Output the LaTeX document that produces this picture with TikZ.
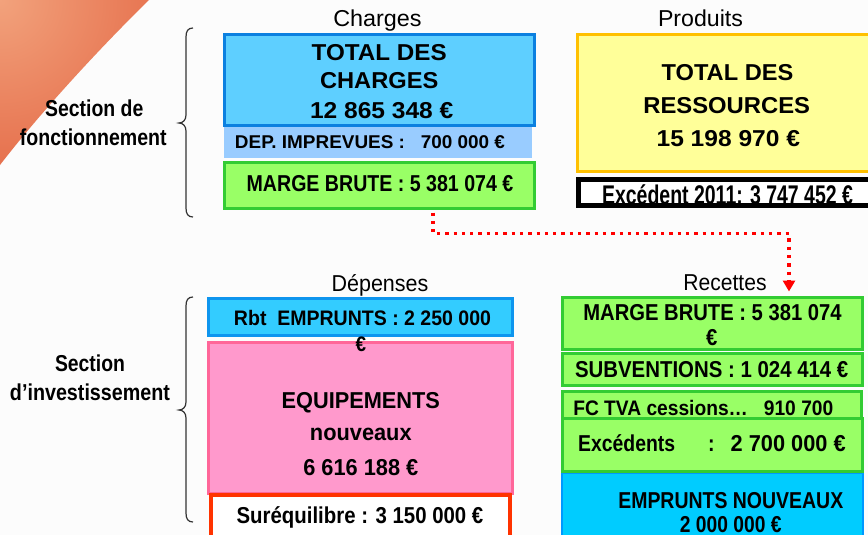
\documentclass[tikz,border=0pt]{standalone}
\usepackage{fontspec}
\setmainfont{Liberation Sans}
\usepackage{graphicx}
\usetikzlibrary{arrows.meta}
\definecolor{bgc}{HTML}{FCFCFC}
\definecolor{tcF}{HTML}{5ECFFF}
\definecolor{tcD}{HTML}{0B80E0}
\definecolor{depF}{HTML}{99CCFF}
\definecolor{grF}{HTML}{99FF66}
\definecolor{grD}{HTML}{33CC33}
\definecolor{yeF}{HTML}{FFFF99}
\definecolor{yeD}{HTML}{FFC000}
\definecolor{rbF}{HTML}{33CCFF}
\definecolor{rbD}{HTML}{0E95EE}
\definecolor{pkF}{HTML}{FF99CC}
\definecolor{pkD}{HTML}{FF6699}
\definecolor{suD}{HTML}{FF3300}
\definecolor{emF}{HTML}{00CCFF}
\definecolor{emD}{HTML}{0099FF}
\definecolor{orIn}{HTML}{F2A27C}
\definecolor{orOut}{HTML}{DA4020}
\definecolor{brc}{HTML}{333333}
\newcommand\hw[2]{\resizebox{#1pt}{\height}{#2}}
\tikzset{
  box/.style={inner sep=0pt, outer sep=0pt, line width=3pt},
  lbl/.style={anchor=base, inner sep=0pt, font=\fontsize{23}{23}\selectfont},
  bt/.style={anchor=base, inner sep=0pt, font=\bfseries\fontsize{23}{23}\selectfont},
  bts/.style={anchor=base, inner sep=0pt, font=\bfseries\fontsize{21}{21}\selectfont},
  brace/.style={draw=brc, line width=1.2pt},
  flow/.style={draw=red, line width=3.3pt, dash pattern=on 3.3pt off 5pt,
    -{Triangle[width=12pt,length=11pt]}}
}
\begin{document}
\begin{tikzpicture}[x=1pt,y=-1pt]
\useasboundingbox (0,0) rectangle (868,535);
\clip (0,0) rectangle (868,535);
\fill[bgc] (0,0) rectangle (868,535);
% orange corner
\begin{scope}
  \clip (0,0) -- (149,0) .. controls (104,44) and (44,108) .. (0,165) -- cycle;
  \shade[inner color=orIn, outer color=orOut] (0,0) circle (330pt);
\end{scope}
% braces
\draw[brace] (193,28) .. controls (188,28) and (186,31) .. (186,37) -- (186,115)
  .. controls (186,120) and (183,123) .. (179,123)
  .. controls (183,123) and (186,126) .. (186,131) -- (186,208)
  .. controls (186,214) and (188,217) .. (193,217);
\draw[brace] (193,297) .. controls (188,297) and (186,300) .. (186,306) -- (186,402)
  .. controls (186,407) and (183,410) .. (179,410)
  .. controls (183,410) and (186,413) .. (186,418) -- (186,513)
  .. controls (186,519) and (188,522) .. (193,522);
% top boxes
\node[box, draw=tcD, fill=tcF, minimum width=310pt, minimum height=91pt] (tc) at (379.5,80) {};
\node[box, fill=depF, minimum width=308pt, minimum height=31pt] (dep) at (378,142.5) {};
\node[box, draw=grD, fill=grF, minimum width=310pt, minimum height=46pt] (mb1) at (379.5,185.5) {};
\node[box, draw=yeD, fill=yeF, minimum width=307.5pt, minimum height=137pt] (tr) at (731.25,103) {};
\node[box, draw=black, fill=white, line width=4.5pt, minimum width=306.5pt, minimum height=26pt] (ex) at (731.75,192.5) {};
% bottom left boxes
\node[box, draw=rbD, fill=rbF, minimum width=304pt, minimum height=37pt] (rb) at (360.5,317) {};
\node[box, draw=pkD, fill=pkF, minimum width=304pt, minimum height=151pt] (eq) at (360.5,418) {};
\node[box, draw=suD, fill=white, line width=4pt, minimum width=299pt, minimum height=55pt] (su) at (360.5,522.5) {};
% bottom right boxes
\node[box, draw=emD, fill=emF, line width=2pt, minimum width=301pt, minimum height=77pt] (em) at (712.5,511.5) {};
\node[box, draw=grD, fill=grF, minimum width=300pt, minimum height=51.5pt] (mb2) at (712.5,323.25) {};
\node[box, draw=grD, fill=grF, minimum width=300pt, minimum height=32pt] (sub) at (712.5,369) {};
\node[box, draw=grD, fill=grF, minimum width=298.5pt, minimum height=31pt] (fc) at (711.75,406.5) {};
\node[box, draw=grD, fill=grF, minimum width=300pt, minimum height=52.5pt] (exc) at (712.5,444.75) {};
% column labels
\node[lbl] (lch) at (377.5,26.5) {\hw{88.4}{Charges}};
\node[lbl] (lpr) at (700.5,27) {\hw{85}{Produits}};
\node[lbl] (lde) at (380,291.5) {\hw{96.7}{Dépenses}};
\node[lbl] (lre) at (725,290) {\hw{83.3}{Recettes}};
% section labels
\node[bt] (sfA) at (94.2,116.7) {\hw{98.3}{Section de}};
\node[bt] (sfB) at (93.3,145) {\hw{146.7}{fonctionnement}};
\node[bt] (siA) at (90,371.7) {\hw{70}{Section}};
\node[bt] (siB) at (90,400) {\hw{160}{d’investissement}};
% top texts
\node[bt] (tcA) at (379.2,60) {\hw{135}{TOTAL DES}};
\node[bt] (tcB) at (379.2,88.3) {\hw{118.3}{CHARGES}};
\node[bt] (tcC) at (381.7,118.3) {\hw{143.3}{12 865 348 €}};
\node[anchor=base, inner sep=0pt, font=\bfseries\fontsize{18.5}{18.5}\selectfont] (depT) at (370,148.3) {\hw{270}{DEP. IMPREVUES :\ \ \ 700 000 €}};
\node[bt] (mb1T) at (380,191.7) {\hw{266.7}{MARGE BRUTE : 5 381 074 €}};
\node[bt] (trA) at (727.5,80) {\hw{131.7}{TOTAL DES}};
\node[bt] (trB) at (726.7,113.3) {\hw{166.7}{RESSOURCES}};
\node[bt] (trC) at (728.3,146.7) {\hw{143.3}{15 198 970 €}};
\begin{scope}
  \clip (ex.north west) rectangle (ex.south east);
  \node[anchor=base, inner sep=0pt, font=\bfseries\fontsize{27}{27}\selectfont] (exT) at (727.5,204.5) {\hw{251}{Excédent 2011: 3 747 452 €}};
\end{scope}
% bottom left texts
\node[bts] (rbA) at (362.5,325) {\hw{257}{Rbt\ \ EMPRUNTS : 2 250 000}};
\node[bts] (rbB) at (361,351.7) {\scalebox{0.9}[1]{€}};
\node[bt] (eqA) at (360.8,408.3) {\hw{158.3}{EQUIPEMENTS}};
\node[bt] (eqB) at (360.8,440.5) {\hw{101.7}{nouveaux}};
\node[bt] (eqC) at (360.8,475) {\hw{115}{6 616 188 €}};
\node[bt] (suT) at (360,523.3) {\hw{246.7}{Suréquilibre : 3 150 000 €}};
% bottom right texts
\node[bt] (mbA) at (712.5,320) {\hw{258.3}{MARGE BRUTE : 5 381 074}};
\node[bt] (mbB) at (711.7,345) {\scalebox{0.88}[1]{€}};
\node[bt] (subT) at (711.7,377.3) {\hw{273.3}{SUBVENTIONS : 1 024 414 €}};
\node[bts] (fcT) at (703.3,415) {\hw{260}{FC TVA cessions…\ \ \ 910 700}};
\node[bt, anchor=base west] (excT) at (578,451.7) {\hw{97}{Excédents}\hspace{33pt}\scalebox{0.85}[1]{:}\hspace{16pt}\hw{115}{2 700 000 €}};
\node[bt] (emA) at (730.8,508.3) {\hw{225}{EMPRUNTS NOUVEAUX}};
\node[bt] (emB) at (730.8,532.5) {\hw{101.7}{2 000 000 €}};
% flow arrow
\draw[flow, shorten <=4pt, shorten >=6pt] ([xshift=53.5pt]mb1.south) -- ++(0,25) -| ([xshift=76.5pt]mb2.north);
\end{tikzpicture}
\end{document}
